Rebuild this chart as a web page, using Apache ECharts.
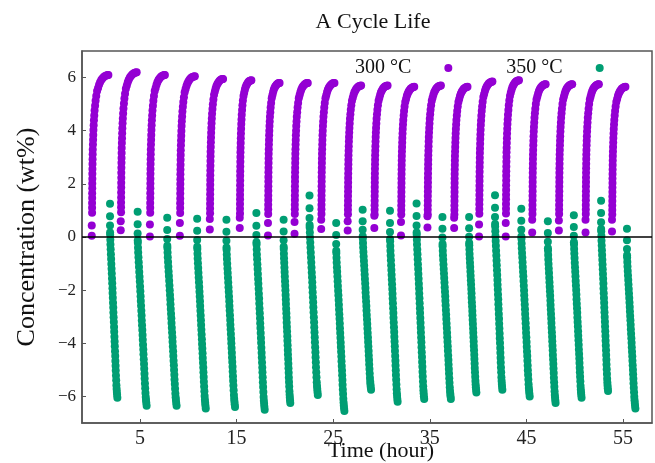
<!DOCTYPE html>
<html>
<head>
<meta charset="utf-8">
<script src="https://cdn.jsdelivr.net/npm/echarts@6.0.0/dist/echarts.min.js"></script>
<style>
  html, body { margin: 0; padding: 0; background: #fff; }
  #chart { width: 655px; height: 463px; }
</style>
</head>
<body>
<div id="chart"></div>
<script>
// per-cycle readings (hours / wt%)
const purpleStart = [0.01, 3.01, 6.03, 9.13, 12.23, 15.33, 18.25, 21.0, 23.76, 26.5, 29.26, 32.02, 34.76, 37.52, 40.1, 42.86, 45.6, 48.36, 51.12, 53.86];
const purpleTop = [1.73, 4.66, 7.58, 10.68, 13.6, 16.53, 19.45, 22.37, 25.13, 27.89, 30.63, 33.39, 36.15, 38.9, 41.48, 44.23, 46.99, 49.74, 52.5, 55.25];
const purplePeak = [6.1, 6.2, 6.1, 6.05, 5.95, 5.9, 5.8, 5.8, 5.8, 5.7, 5.7, 5.65, 5.7, 5.65, 5.85, 5.9, 5.75, 5.75, 5.75, 5.65];
const purpleLow = [0.05, 0.25, 0.02, 0.05, 0.28, 0.34, 0.06, 0.12, 0.3, 0.24, 0.34, 0.06, 0.36, 0.34, 0.02, 0.02, 0.17, 0.24, 0.17, 0.21];
const purpleLow2 = [0.43, 0.59, 0.47, 0.53, 0.68, 0.72, 0.53, 0.56, 0.65, 0.59, 0.8, 0.56, 0.78, 0.72, 0.47, 0.53, 0.65, 0.62, 0.65, 0.65];

const greenStart = [1.9, 4.76, 7.82, 10.92, 13.95, 17.05, 19.87, 22.55, 25.31, 28.05, 30.88, 33.63, 36.31, 39.07, 41.75, 44.47, 47.22, 49.91, 52.73, 55.41];
const greenEnd = [2.66, 5.69, 8.79, 11.81, 14.84, 17.91, 20.56, 23.41, 26.16, 28.92, 31.67, 34.42, 37.18, 39.82, 42.51, 45.34, 48.02, 50.71, 53.45, 56.28];
const greenTop = [1.25, 0.95, 0.72, 0.69, 0.65, 0.9, 0.65, 1.56, 0.53, 1.03, 0.99, 1.26, 0.75, 0.75, 1.57, 1.06, 0.59, 0.82, 1.36, 0.31];
const greenBottom = [-6.05, -6.35, -6.35, -6.45, -6.4, -6.5, -6.25, -5.95, -6.55, -5.75, -6.2, -6.1, -6.1, -5.85, -5.75, -6.0, -6.25, -6.05, -5.8, -6.45];

// shape of one absorption curve (fraction of width, fraction of peak)
const purpleShapeT = [0.02, 0.02, 0.02, 0.025, 0.025, 0.03, 0.03, 0.035, 0.035, 0.04, 0.045, 0.05, 0.055, 0.06, 0.07, 0.08, 0.09, 0.1, 0.115, 0.13, 0.15, 0.17, 0.2, 0.23, 0.27, 0.32, 0.38, 0.44, 0.5, 0.57, 0.64, 0.72, 0.8, 0.88, 0.95, 1];
const purpleShapeV = [0.15, 0.18, 0.21, 0.24, 0.27, 0.3, 0.33, 0.36, 0.39, 0.42, 0.45, 0.48, 0.51, 0.54, 0.57, 0.6, 0.63, 0.66, 0.69, 0.72, 0.75, 0.78, 0.81, 0.84, 0.87, 0.9, 0.92, 0.94, 0.955, 0.968, 0.978, 0.987, 0.993, 0.997, 0.999, 1];

// shape of one desorption curve (fraction of width, fraction of top->bottom drop)
const greenShapeT = [0, 0, 0, 0.01, 0.02, 0.04, 0.06, 0.09, 0.12, 0.15, 0.18, 0.21, 0.24, 0.27, 0.3, 0.33, 0.35, 0.38, 0.41, 0.44, 0.46, 0.49, 0.52, 0.55, 0.57, 0.6, 0.63, 0.65, 0.68, 0.71, 0.73, 0.76, 0.78, 0.81, 0.84, 0.87, 0.9, 0.93, 0.96, 1];
const greenShapeF = [0, 0.064, 0.112, 0.148, 0.16, 0.185, 0.21, 0.235, 0.26, 0.285, 0.31, 0.335, 0.36, 0.385, 0.41, 0.435, 0.46, 0.485, 0.51, 0.535, 0.56, 0.585, 0.61, 0.635, 0.66, 0.685, 0.71, 0.735, 0.76, 0.785, 0.81, 0.835, 0.86, 0.885, 0.91, 0.935, 0.955, 0.97, 0.985, 1];

const xTicks = [5, 15, 25, 35, 45, 55];
const yTicks = [-6, -4, -2, 0, 2, 4, 6];

const purpleData = [];
purpleStart.forEach((s, i) => {
  const w = purpleTop[i] - s;
  purpleData.push([s, purpleLow[i]], [s, purpleLow2[i]]);
  purpleShapeT.forEach((t, k) => purpleData.push([s + t * w, purpleShapeV[k] * purplePeak[i]]));
});

const greenData = [];
greenStart.forEach((s, i) => {
  const w = greenEnd[i] - s;
  const drop = greenBottom[i] - greenTop[i];
  greenShapeT.forEach((t, k) => greenData.push([s + t * w, greenTop[i] + greenShapeF[k] * drop]));
});

const serif = 'Liberation Serif';
const chart = echarts.init(document.getElementById('chart'));
chart.setOption({
  animation: false,
  title: {
    text: 'A Cycle Life',
    left: 368,
    textAlign: 'center',
    top: 6,
    textStyle: { fontFamily: serif, fontSize: 22, fontWeight: 'normal', color: '#111' }
  },
  legend: {
    left: 350,
    top: 53,
    align: 'right',
    icon: 'circle',
    itemWidth: 8,
    itemHeight: 8,
    itemGap: 54,
    textStyle: { fontFamily: serif, fontSize: 20, color: '#111', padding: [0, 28, 0, 0] },
    data: ['300 °C', '350 °C']
  },
  grid: {
    left: 82, right: 3, top: 51, bottom: 40,
    outerBoundsMode: 'none',
    containLabel: false,
    show: true, borderColor: '#555', borderWidth: 1.5
  },
  xAxis: {
    type: 'value',
    min: -1,
    max: 58,
    name: 'Time (hour)',
    nameLocation: 'middle',
    nameGap: 17,
    nameMoveOverlap: false,
    nameTextStyle: { fontFamily: serif, fontSize: 22, color: '#111', padding: [0, 0, 0, 28] },
    axisLine: { onZero: false, lineStyle: { color: '#555', width: 1.5 } },
    axisTick: { inside: true, length: 4, customValues: xTicks, lineStyle: { color: '#555' } },
    axisLabel: { customValues: xTicks, fontFamily: serif, fontSize: 20, color: '#222', margin: 6 },
    splitLine: { show: false }
  },
  yAxis: {
    type: 'value',
    min: -7,
    max: 7,
    name: 'Concentration (wt%)',
    nameLocation: 'middle',
    nameGap: 42,
    nameMoveOverlap: false,
    nameTextStyle: { fontFamily: serif, fontSize: 26, color: '#111' },
    axisLine: { onZero: false, lineStyle: { color: '#555', width: 1.5 } },
    axisTick: { inside: true, length: 4, customValues: yTicks, lineStyle: { color: '#555' } },
    axisLabel: {
      customValues: yTicks,
      fontFamily: serif, fontSize: 17, color: '#222', margin: 6,
      formatter: v => String(v).replace('-', '\u2212')
    },
    splitLine: { show: false }
  },
  series: [
    {
      name: '300 °C',
      type: 'scatter',
      symbolSize: 8,
      itemStyle: { color: '#9400d3', opacity: 1 },
      data: purpleData,
      markLine: {
        silent: true,
        symbol: 'none',
        label: { show: false },
        lineStyle: { color: '#000', width: 1.5, type: 'solid' },
        data: [{ yAxis: 0 }]
      }
    },
    {
      name: '350 °C',
      type: 'scatter',
      symbolSize: 8,
      itemStyle: { color: '#009e73', opacity: 1 },
      data: greenData
    }
  ]
});
</script>
</body>
</html>
